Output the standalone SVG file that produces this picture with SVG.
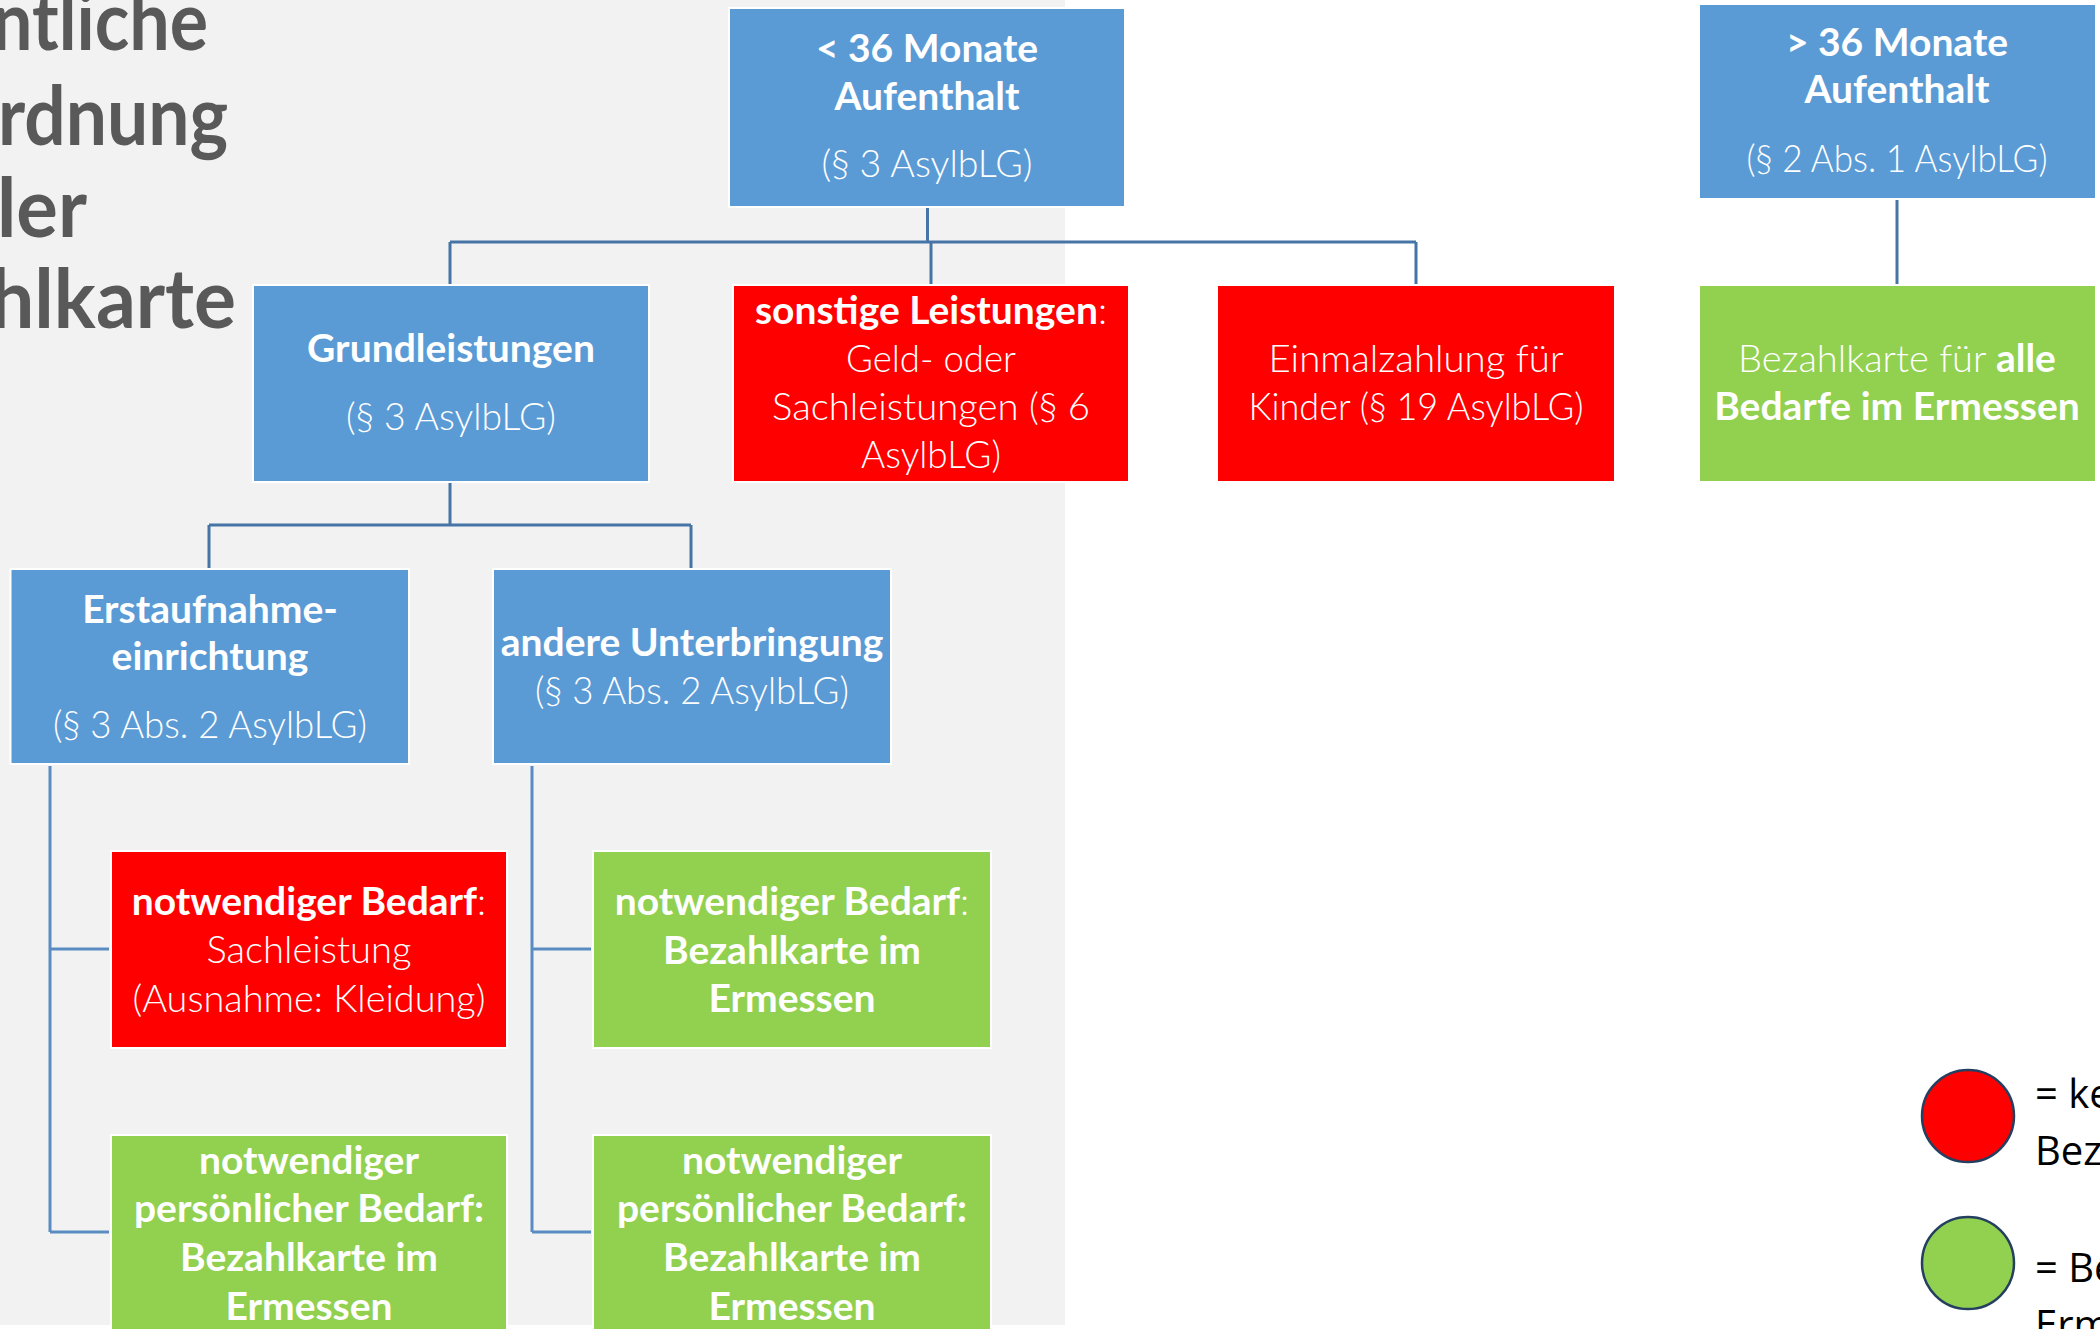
<svg xmlns="http://www.w3.org/2000/svg" width="2100" height="1329" viewBox="0 0 2100 1329">
<style>
.blue{fill:#5B9BD5;stroke:#ffffff;stroke-width:2}
.red{fill:#FF0000;stroke:#ffffff;stroke-width:2}
.green{fill:#92D050;stroke:#ffffff;stroke-width:2}
.t{font-family:Lato,"Open Sans","Liberation Sans",sans-serif;font-size:39px;fill:#ffffff;text-anchor:middle}
.b{font-weight:700}
.l{font-weight:300;font-size:38px}
.title{font-family:Lato,"Open Sans","Liberation Sans",sans-serif;font-size:82px;font-weight:700;fill:#595959;text-anchor:start}
.leg{font-family:"Open Sans","Liberation Sans",sans-serif;font-size:40px;fill:#000000}
.c1{fill:none;stroke:#4674A6;stroke-width:3}
.c2{fill:none;stroke:#5A8CC2;stroke-width:3}
.dot{stroke:#243F60;stroke-width:2.5}
</style>
<rect x="0" y="0" width="2100" height="1329" fill="#ffffff"/>
<rect x="0" y="0" width="1065" height="1325" fill="#F2F2F2"/>

<g id="title">
<text class="title" x="-8" y="50" textLength="216" lengthAdjust="spacingAndGlyphs">ntliche</text>
<text class="title" x="-2" y="145" textLength="230" lengthAdjust="spacingAndGlyphs">rdnung</text>
<text class="title" x="-3" y="237" textLength="90" lengthAdjust="spacingAndGlyphs">ler</text>
<text class="title" x="-10" y="328" textLength="246" lengthAdjust="spacingAndGlyphs">hlkarte</text>
</g>

<g id="connectors">
<path class="c1" d="M927.5 208V242M450 242H1416M450 242V284M931 242V284M1416 242V284"/>
<path class="c1" d="M1897 200V284"/>
<path class="c1" d="M450 483V525M209 525H691M209 525V568M691 525V568"/>
<path class="c2" d="M50 766V1232M50 949H109M50 1232H109"/>
<path class="c2" d="M532 766V1232M532 949H591M532 1232H591"/>
</g>

<g id="n-lt36">
<rect class="blue" x="729" y="8" width="396" height="199"/>
<text class="t b" x="927" y="62">&lt; 36 Monate</text>
<text class="t b" x="927" y="110">Aufenthalt</text>
<text class="t l" x="927" y="177" textLength="211" lengthAdjust="spacingAndGlyphs">(§ 3 AsylbLG)</text>
</g>

<g id="n-gt36">
<rect class="blue" x="1699" y="4" width="397" height="195"/>
<text class="t b" x="1897" y="56">&gt; 36 Monate</text>
<text class="t b" x="1897" y="103">Aufenthalt</text>
<text class="t l" x="1897" y="172" textLength="301" lengthAdjust="spacingAndGlyphs">(§ 2 Abs. 1 AsylbLG)</text>
</g>

<g id="n-grund">
<rect class="blue" x="253" y="285" width="396" height="197"/>
<text class="t b" x="451" y="362">Grundleistungen</text>
<text class="t l" x="451" y="430" textLength="210" lengthAdjust="spacingAndGlyphs">(§ 3 AsylbLG)</text>
</g>

<g id="n-sonstige">
<rect class="red" x="733" y="285" width="396" height="197"/>
<text class="t" x="931" y="324"><tspan class="b">sonstige Leistungen</tspan><tspan class="l">:</tspan></text>
<text class="t l" x="931" y="372" textLength="170" lengthAdjust="spacingAndGlyphs">Geld- oder</text>
<text class="t l" x="931" y="420" textLength="318" lengthAdjust="spacingAndGlyphs">Sachleistungen (§ 6</text>
<text class="t l" x="931" y="468" textLength="140" lengthAdjust="spacingAndGlyphs">AsylbLG)</text>
</g>

<g id="n-einmal">
<rect class="red" x="1217" y="285" width="398" height="197"/>
<text class="t l" x="1416" y="372" textLength="295" lengthAdjust="spacingAndGlyphs">Einmalzahlung für</text>
<text class="t l" x="1416" y="420" textLength="335" lengthAdjust="spacingAndGlyphs">Kinder (§ 19 AsylbLG)</text>
</g>

<g id="n-alle">
<rect class="green" x="1699" y="285" width="397" height="197"/>
<text class="t" x="1897" y="372"><tspan class="l">Bezahlkarte für </tspan><tspan class="b">alle</tspan></text>
<text class="t b" x="1897" y="420">Bedarfe im Ermessen</text>
</g>

<g id="n-erst">
<rect class="blue" x="10.5" y="569" width="398.5" height="195"/>
<text class="t b" x="210" y="623">Erstaufnahme-</text>
<text class="t b" x="210" y="670">einrichtung</text>
<text class="t l" x="210" y="738" textLength="314" lengthAdjust="spacingAndGlyphs">(§ 3 Abs. 2 AsylbLG)</text>
</g>

<g id="n-andere">
<rect class="blue" x="493" y="569" width="398" height="195"/>
<text class="t b" x="692" y="656">andere Unterbringung</text>
<text class="t l" x="692" y="704" textLength="314" lengthAdjust="spacingAndGlyphs">(§ 3 Abs. 2 AsylbLG)</text>
</g>

<g id="n-bedarf-erst">
<rect class="red" x="111" y="851" width="396" height="197"/>
<text class="t" x="309" y="915"><tspan class="b">notwendiger Bedarf</tspan><tspan class="l">:</tspan></text>
<text class="t l" x="309" y="963" textLength="205" lengthAdjust="spacingAndGlyphs">Sachleistung</text>
<text class="t l" x="309" y="1012" textLength="353" lengthAdjust="spacingAndGlyphs">(Ausnahme: Kleidung)</text>
</g>

<g id="n-bedarf-andere">
<rect class="green" x="593" y="851" width="398" height="197"/>
<text class="t" x="792" y="915"><tspan class="b">notwendiger Bedarf</tspan><tspan class="l">:</tspan></text>
<text class="t b" x="792" y="964">Bezahlkarte im</text>
<text class="t b" x="792" y="1012">Ermessen</text>
</g>

<g id="n-persoenlich-erst">
<rect class="green" x="111" y="1135" width="396" height="210"/>
<text class="t b" x="309" y="1174">notwendiger</text>
<text class="t b" x="309" y="1222">persönlicher Bedarf:</text>
<text class="t b" x="309" y="1271">Bezahlkarte im</text>
<text class="t b" x="309" y="1320">Ermessen</text>
</g>

<g id="n-persoenlich-andere">
<rect class="green" x="593" y="1135" width="398" height="210"/>
<text class="t b" x="792" y="1174">notwendiger</text>
<text class="t b" x="792" y="1222">persönlicher Bedarf:</text>
<text class="t b" x="792" y="1271">Bezahlkarte im</text>
<text class="t b" x="792" y="1320">Ermessen</text>
</g>

<g id="legend">
<circle class="dot" cx="1968" cy="1116" r="46" fill="#FF0000"/>
<circle class="dot" cx="1968" cy="1263" r="46" fill="#92D050"/>
<text class="leg" x="2035" y="1108">= ke</text>
<text class="leg" x="2035" y="1165">Bez</text>
<text class="leg" x="2035" y="1282">= Be</text>
<text class="leg" x="2035" y="1339">Erm</text>
</g>
</svg>
